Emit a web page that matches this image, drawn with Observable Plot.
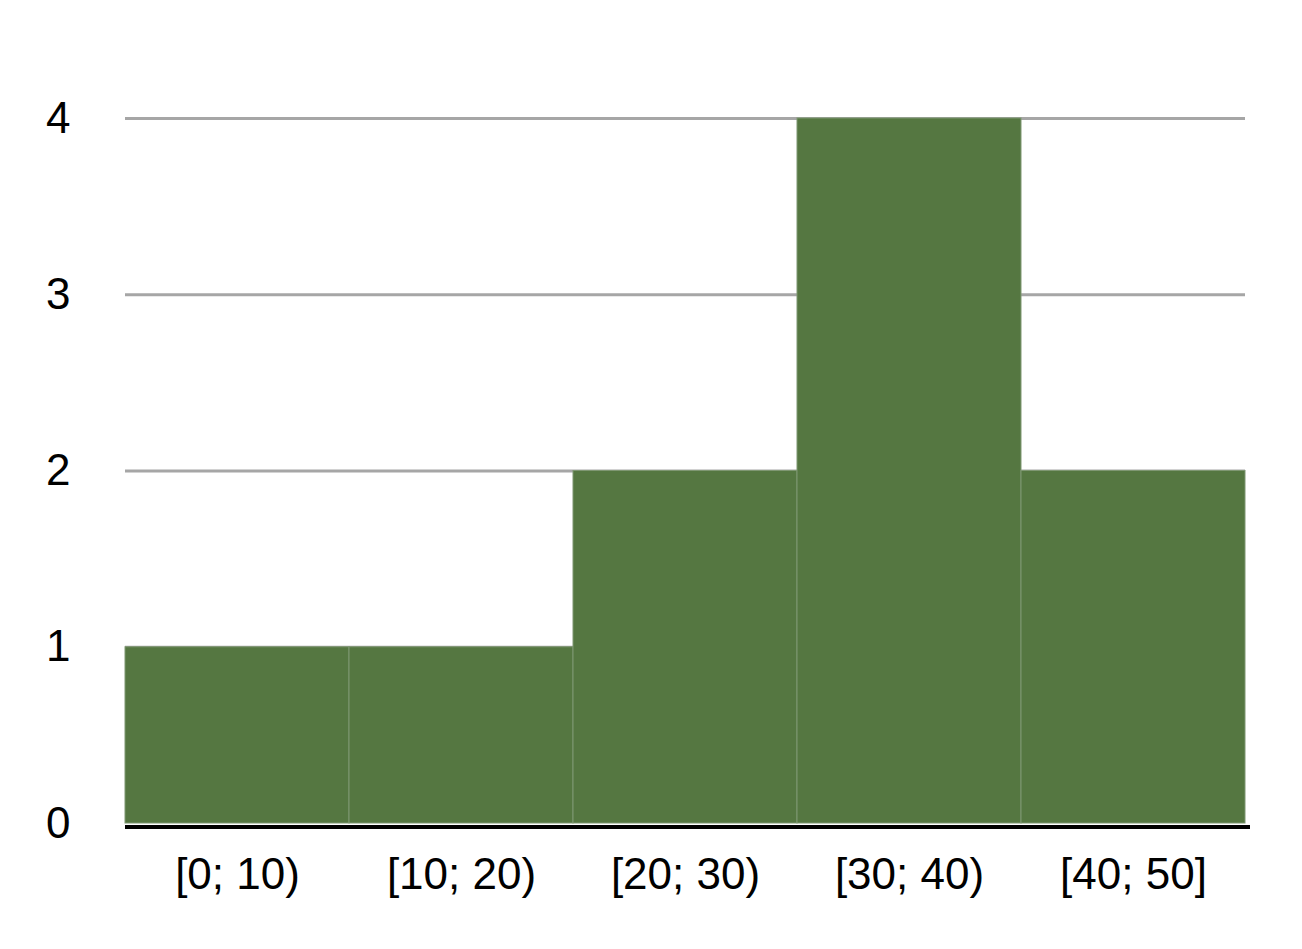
<!DOCTYPE html>
<html>
<head>
<meta charset="utf-8">
<script src="https://cdn.jsdelivr.net/npm/d3@7"></script>
<script src="https://cdn.jsdelivr.net/npm/@observablehq/plot@0.6"></script>
<style>
  html, body { margin: 0; padding: 0; background: #fff; }
  #chart svg { display: block; }
</style>
</head>
<body>
<div id="chart"></div>
<script>
const categories = ["[0; 10)", "[10; 20)", "[20; 30)", "[30; 40)", "[40; 50]"];
const counts = [1, 1, 2, 4, 2];
const yTicks = [0, 1, 2, 3, 4];
const gridTicks = [1, 2, 3, 4];

const data = categories.map((c, i) => ({bin: c, count: counts[i]}));

const chart = Plot.plot({
  width: 1302,
  height: 949,
  marginLeft: 125,
  marginRight: 57,
  marginTop: 118,
  marginBottom: 126,
  style: {fontFamily: "'Liberation Sans', Arial, Helvetica, sans-serif", fontSize: "44px", color: "#000", background: "#fff"},
  x: {domain: categories, padding: 0, label: null},
  y: {domain: [0, 4], label: null},
  marks: [
    Plot.ruleY(gridTicks, {stroke: "#a6a6a6", strokeWidth: 3}),
    Plot.barY(data, {x: "bin", y: "count", fill: "#557741", stroke: "#7f9772", strokeWidth: 1, inset: 0}),
    Plot.ruleY([0], {stroke: "#000", strokeWidth: 4, dy: 3.5, insetRight: -5}),
    Plot.axisY({ticks: yTicks, tickSize: 0, tickPadding: 55, tickFormat: d => String(d), fontSize: 44, label: null}),
    Plot.axisX({tickSize: 0, tickPadding: 34, fontSize: 44, label: null})
  ]
});
document.getElementById("chart").appendChild(chart);
</script>
</body>
</html>
